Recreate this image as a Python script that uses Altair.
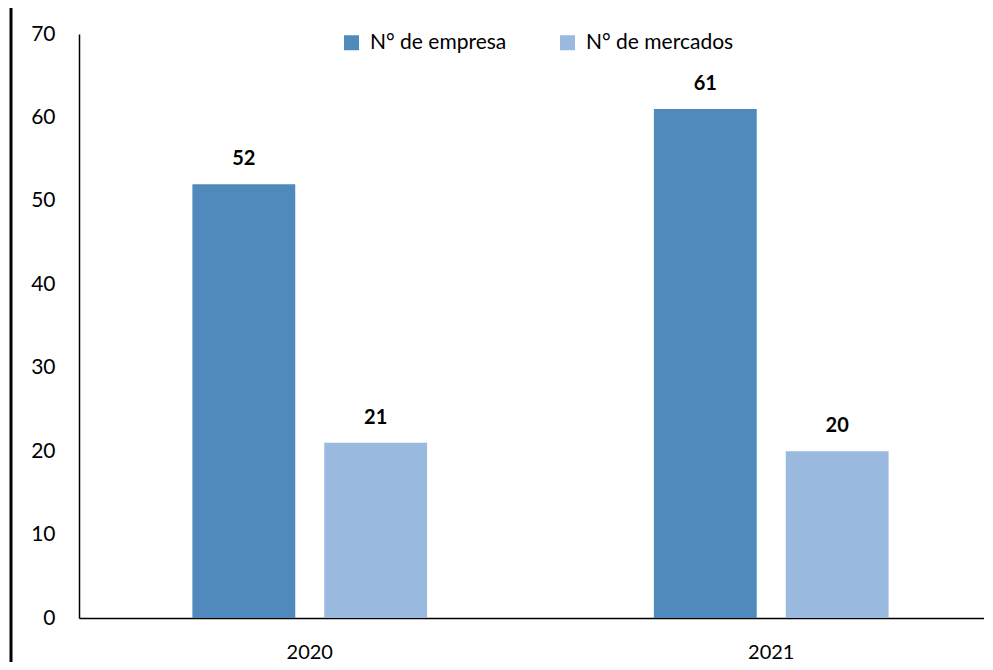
import altair as alt
import pandas as pd

years = ["2020", "2020", "2021", "2021"]
series = ["N° de empresa", "N° de mercados", "N° de empresa", "N° de mercados"]
values = [52, 21, 61, 20]

df = pd.DataFrame({"year": years, "series": series, "value": values})
FONT = "Lato"

color = alt.Color(
    "series:N",
    scale=alt.Scale(domain=["N° de empresa", "N° de mercados"], range=["#5089BC", "#99B9DF"]),
    legend=alt.Legend(
        title=None, orient="none", legendX=262, legendY=-2, direction="horizontal",
        symbolType="square", symbolSize=225, symbolStrokeWidth=0, labelFontSize=21,
        labelFont=FONT, labelColor="#000000", columnPadding=50, labelOffset=8,
    ),
)

x = alt.X("year:N", scale=alt.Scale(paddingInner=0, paddingOuter=0, range=[0, 923]),
          axis=alt.Axis(title=None, labelAngle=0, ticks=False, labelPadding=40,
                        labelBaseline="alphabetic",
                        labelFontSize=20, labelFont=FONT, labelColor="#000000",
                        domainColor="#000000", domainWidth=1.5))
xo = alt.XOffset("series:N", scale=alt.Scale(paddingInner=0.22, paddingOuter=0.86))
y = alt.Y("value:Q", scale=alt.Scale(domain=[0, 70], nice=False),
          axis=alt.Axis(title=None, values=[0, 10, 20, 30, 40, 50, 60, 70], grid=False,
                        ticks=False, labelPadding=24, labelFontSize=21, labelFont=FONT,
                        labelColor="#000000", domainColor="#000000", domainWidth=1.5))

base = alt.Chart(df)
bars = base.mark_bar().encode(x=x, xOffset=xo, y=y, color=color)
labels = base.mark_text(dy=-15, baseline="bottom", fontWeight="bold", fontSize=20,
                        font=FONT, color="#000000").encode(
    x=x, xOffset=xo, y=y, text=alt.Text("value:Q"))

border = alt.Chart(pd.DataFrame({"a": [0]})).mark_rule(color="#000000", strokeWidth=3).encode(
    x=alt.value(-68), y=alt.value(-40), y2=alt.value(700))

chart = alt.layer(border, bars, labels).properties(
    width=905, height=584, autosize=alt.AutoSizeParams(type="none"),
    padding={"left": 71, "top": 26, "right": 0, "bottom": 44},
    background="#ffffff",
).configure_view(stroke="transparent", strokeWidth=0)

chart.save("out.html", embed_options={"renderer": "svg", "actions": False})
